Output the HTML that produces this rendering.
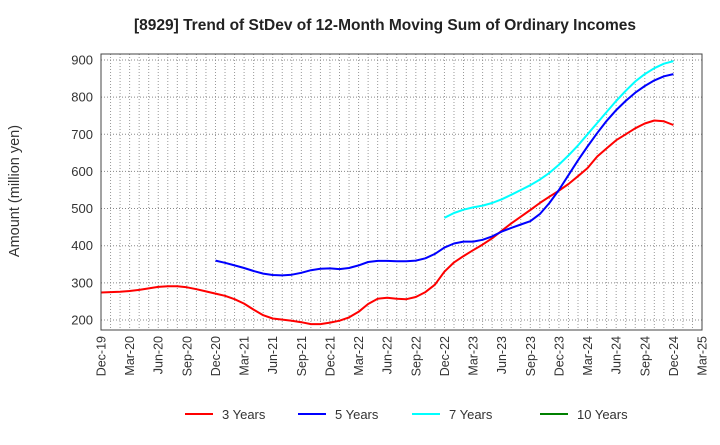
<!DOCTYPE html>
<html><head><meta charset="utf-8"><style>
body{margin:0;background:#fff;font-family:"Liberation Sans",sans-serif}
</style></head><body>
<svg width="720" height="440" xmlns="http://www.w3.org/2000/svg" font-family="Liberation Sans, sans-serif">
<text x="385" y="30" text-anchor="middle" font-size="15.5" font-weight="bold" fill="#222">[8929]  Trend of StDev of 12-Month Moving Sum of Ordinary Incomes</text>
<text transform="translate(19,191) rotate(-90)" text-anchor="middle" font-size="14.5" fill="#333">Amount (million yen)</text>
<g id="grid"></g>
<g id="series"></g>
<rect x="101" y="54" width="601" height="276" fill="none" stroke="#444" stroke-width="1"/>
<g id="axes"></g>
<g id="legend"></g>
</svg>
<script>
const xLabels=["Dec-19","Mar-20","Jun-20","Sep-20","Dec-20","Mar-21","Jun-21","Sep-21","Dec-21","Mar-22","Jun-22","Sep-22","Dec-22","Mar-23","Jun-23","Sep-23","Dec-23","Mar-24","Jun-24","Sep-24","Dec-24","Mar-25"];
const yTicks=[200,300,400,500,600,700,800,900];
const s3Start=0;
const s3=[274,275,276,278,281,285,289,291,291,288,283,277,271,265,256,244,228,213,204,201,198,194,189,189,193,198,207,222,243,257,260,257,256,262,275,295,330,355,372,388,403,420,440,460,478,496,515,532,548,566,587,609,640,662,684,700,716,729,737,735,725];
const s5Start=12;
const s5=[360,354,347,340,332,325,321,320,322,327,334,338,339,337,340,347,356,359,359,358,358,360,366,378,395,406,411,411,416,425,438,448,457,466,485,515,550,590,630,667,703,736,765,790,812,830,845,856,862];
const s7Start=36;
const s7=[475,488,497,503,508,515,525,537,550,563,578,596,618,643,670,700,730,760,790,817,842,862,878,890,897];
const s10=[];
const names=["3 Years","5 Years","7 Years","10 Years"];
const colors=["#ff0000","#0000ff","#00ffff","#008000"];

const NS="http://www.w3.org/2000/svg";
const X0=101,DX=9.54,Y0=60,DY=37.14;
function xs(m){return X0+m*DX;}
function ys(v){return Y0+(900-v)/100*DY;}
function mk(t,a,p){const e=document.createElementNS(NS,t);for(const k in a)e.setAttribute(k,a[k]);p.appendChild(e);return e;}
const grid=document.getElementById('grid'),axes=document.getElementById('axes'),ser=document.getElementById('series'),leg=document.getElementById('legend');
for(let m=1;m<63;m++){const l=mk('line',{x1:xs(m),x2:xs(m),y1:54,y2:330,stroke:'#999','stroke-dasharray':'1,2'},grid);

}
yTicks.forEach(v=>{const l=mk('line',{x1:101,x2:702,y1:ys(v),y2:ys(v),stroke:'#888','stroke-dasharray':'1,2'},grid);


const t=mk('text',{x:93,y:ys(v)+4.5,'text-anchor':'end','font-size':13,fill:'#333'},axes);t.textContent=v;

});
xLabels.forEach((lb,i)=>{const x=xs(i*3);const t=mk('text',{transform:`translate(${x+4.5},336) rotate(-90)`,'text-anchor':'end','font-size':12.5,fill:'#333'},axes);t.textContent=lb;

});
[[s3,s3Start],[s5,s5Start],[s7,s7Start],[s10,0]].forEach((d,k)=>{if(!d[0].length)return;
const pts=d[0].map((v,i)=>xs(d[1]+i).toFixed(1)+','+ys(v).toFixed(1)).join(' ');
const p=mk('polyline',{points:pts,fill:'none',stroke:colors[k],'stroke-width':2,'stroke-linejoin':'round'},ser);

});
const lx=[185,298,412,540];
names.forEach((n,k)=>{const g=mk('g',{},leg);


mk('line',{x1:lx[k],x2:lx[k]+28,y1:414,y2:414,stroke:colors[k],'stroke-width':2},g);
const t=mk('text',{x:lx[k]+37,y:419,'font-size':13,fill:'#333'},g);t.textContent=n;});
</script>
</body></html>
